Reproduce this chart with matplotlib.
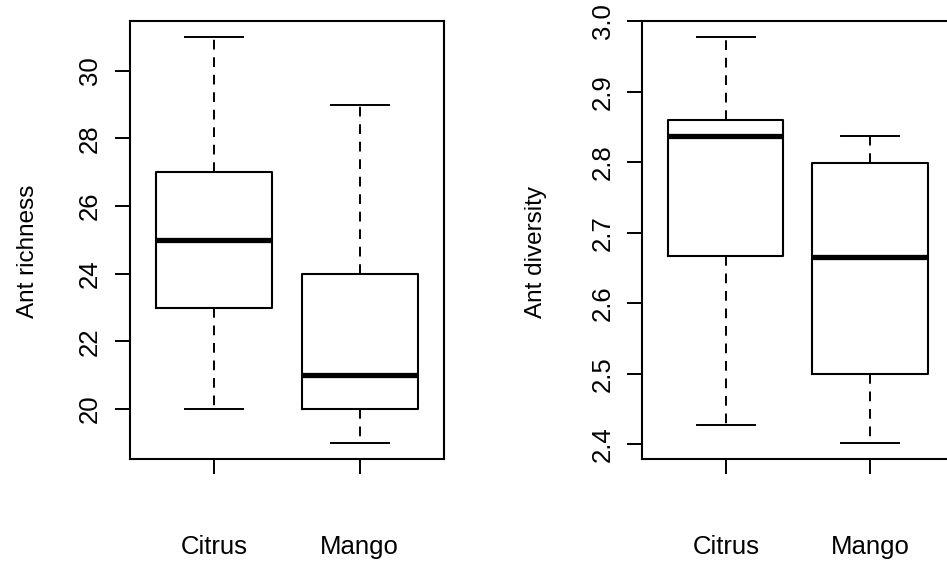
import matplotlib.pyplot as plt

plt.rcParams['font.family'] = ['Liberation Sans', 'DejaVu Sans']

# Data (five-number summaries)
groups = ['Citrus', 'Mango']

rich_low = [20, 19]
rich_q1 = [23, 20]
rich_med = [25, 21]
rich_q3 = [27, 24]
rich_high = [31, 29]

div_low = [2.427, 2.402]
div_q1 = [2.667, 2.499]
div_med = [2.838, 2.665]
div_q3 = [2.860, 2.799]
div_high = [2.978, 2.838]


def make_stats(low, q1, med, q3, high):
    return [dict(label=g, whislo=a, q1=b, med=c, q3=d, whishi=e, fliers=[])
            for g, a, b, c, d, e in zip(groups, low, q1, med, q3, high)]


def draw(ax, stats, ylabel, yticks, ylabels, label_x):
    ax.bxp(stats, positions=[1, 2], widths=0.8, showfliers=False,
           boxprops=dict(color='black', linewidth=1.5),
           medianprops=dict(color='black', linewidth=3.8, solid_capstyle='butt'),
           whiskerprops=dict(color='black', linewidth=1.4, linestyle=(0, (5, 4))),
           capprops=dict(color='black', linewidth=1.4))
    lo = min(s['whislo'] for s in stats)
    hi = max(s['whishi'] for s in stats)
    r = hi - lo
    ax.set_ylim(lo - 0.04 * r, hi + 0.04 * r)
    ax.set_xlim(0.42, 2.58)
    ax.set_yticks(yticks)
    ax.set_yticklabels(ylabels, rotation=90, va='center')
    ax.set_xticks([1, 2])
    ax.set_xticklabels(groups)
    ax.tick_params(axis='both', direction='out', length=11, width=1.4,
                   labelsize=18.5)
    ax.tick_params(axis='x', pad=44)
    ax.tick_params(axis='y', pad=9)
    for s in ax.spines.values():
        s.set_linewidth(1.5)
    ax.set_ylabel(ylabel, fontsize=17.5)
    ax.yaxis.set_label_coords(label_x, 0.473)


fig = plt.figure(figsize=(9.47, 5.66), dpi=100)
ax1 = fig.add_axes([0.1373, 0.189, 0.3316, 0.7744])
ax2 = fig.add_axes([0.6783, 0.189, 0.3285, 0.7744])

draw(ax1, make_stats(rich_low, rich_q1, rich_med, rich_q3, rich_high),
     'Ant richness', [20, 22, 24, 26, 28, 30],
     ['20', '22', '24', '26', '28', '30'], -0.291)
draw(ax2, make_stats(div_low, div_q1, div_med, div_q3, div_high),
     'Ant diversity', [2.4, 2.5, 2.6, 2.7, 2.8, 2.9, 3.0],
     ['2.4', '2.5', '2.6', '2.7', '2.8', '2.9', '3.0'], -0.305)

fig.savefig('out.png', dpi=100)
